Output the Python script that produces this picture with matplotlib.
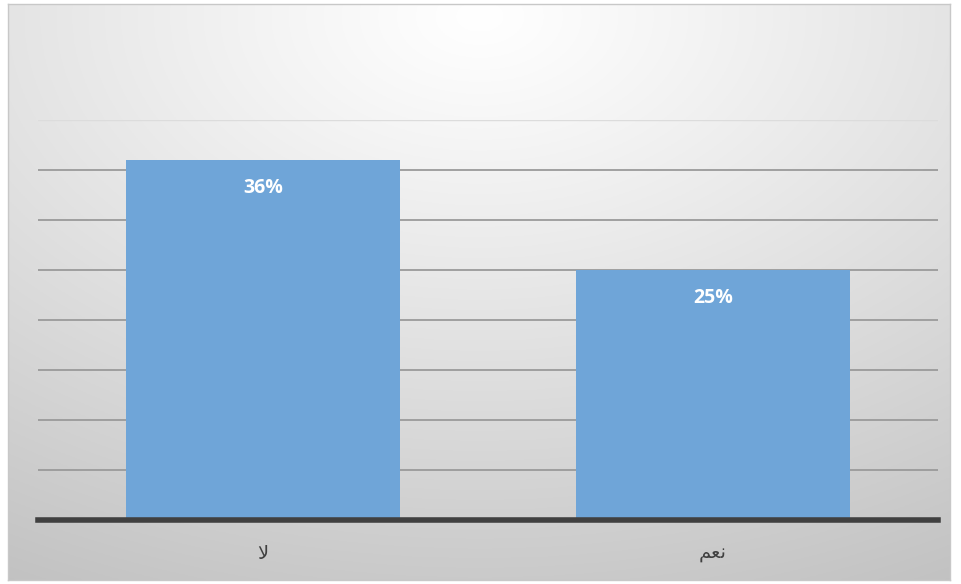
import numpy as np
import matplotlib
matplotlib.use("Agg")
import matplotlib.pyplot as plt

categories = ["\uFEFB", "\uFEE2\uFECC\uFEE7"]  # لا , نعم (presentation forms, visual order)
values = [36, 25]
value_labels = ["36%", "25%"]
yticks = [0, 5, 10, 15, 20, 25, 30, 35]

W, H = 961, 584
fig = plt.figure(figsize=(W / 100, H / 100), dpi=100)
fig.patch.set_facecolor("white")

# gradient background panel
bg = fig.add_axes([8 / W, 4 / H, 942 / W, 576 / H])
ny, nx = 300, 500
yy, xx = np.mgrid[0:ny, 0:nx]
cx, cy = nx * 0.5, ny * 0.02
d = np.sqrt(((xx - cx) / nx) ** 2 + ((yy - cy) / ny) ** 2 * 0.9)
d = d / d.max()
v = 1.0 - 0.24 * d ** 1.1
img = np.dstack([v, v, v])
bg.imshow(img, aspect="auto", extent=[0, 1, 0, 1], origin="upper")
bg.set_xticks([]); bg.set_yticks([])
for s in bg.spines.values():
    s.set_color("#c8c8c8"); s.set_linewidth(1.0)

ax = fig.add_axes([38 / W, 64 / H, 900 / W, 400 / H])
ax.patch.set_alpha(0)
x = np.arange(len(categories))
bars = ax.bar(x, values, width=0.61, color="#6fa5d8", zorder=2)
ax.set_xlim(-0.5, 1.5)
ax.set_ylim(0, 40)
ax.set_yticks(yticks)
ax.yaxis.grid(True, color="#9a9a9a", linewidth=1.3, zorder=1)
ax.axhline(40, color="#dcdcdc", linewidth=1.0, zorder=1)
ax.set_axisbelow(True)
ax.tick_params(axis="y", left=False, labelleft=False)
ax.tick_params(axis="x", bottom=False, pad=14)
ax.set_xticks(x)
ax.set_xticklabels(categories, fontsize=14, color="#404040", family=["DejaVu Sans"])
for s in ["top", "left", "right"]:
    ax.spines[s].set_visible(False)
ax.spines["bottom"].set_color("#404040")
ax.spines["bottom"].set_linewidth(4)
ax.spines["bottom"].set_zorder(3)

for xi, val, lab in zip(x, values, value_labels):
    ax.annotate(lab, (xi, val), xytext=(0, -20), textcoords="offset points",
                ha="center", va="center", color="white", fontsize=14,
                fontweight="bold", family=["Open Sans", "DejaVu Sans"], zorder=4)

fig.savefig("out.png", dpi=100)
